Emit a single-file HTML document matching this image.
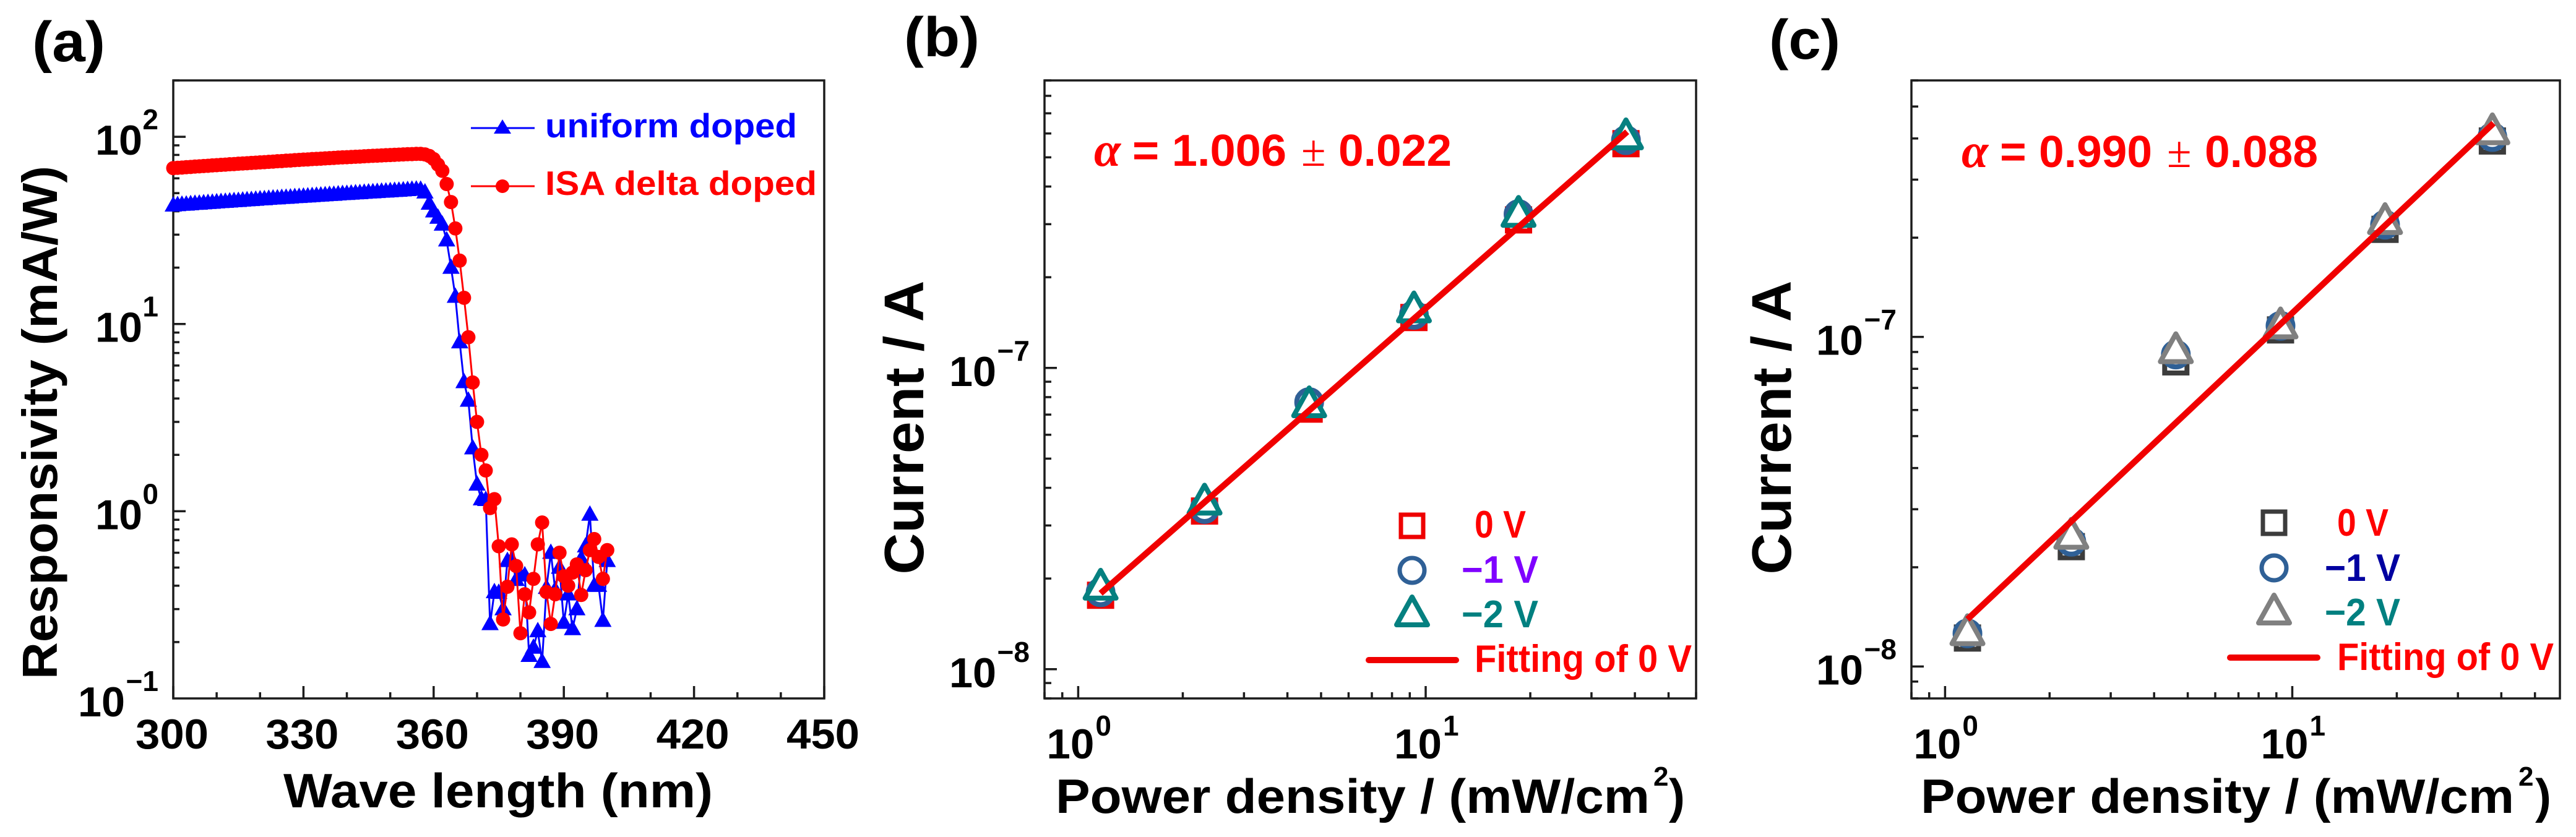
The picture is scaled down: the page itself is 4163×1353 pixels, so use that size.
<!DOCTYPE html>
<html lang="en">
<head>
<meta charset="utf-8">
<title>Responsivity and power-law fitting charts</title>
<style>
html,body{margin:0;padding:0;background:#fff;width:4163px;height:1353px;overflow:hidden}
svg{display:block}
text{font-family:"Liberation Sans",Arial,sans-serif;font-weight:bold;fill:#000}
.red{fill:#f00}
</style>
</head>
<body>
<svg id="figure" xmlns="http://www.w3.org/2000/svg" width="4163" height="1353" viewBox="0 0 4163 1353">
<rect x="0" y="0" width="4163" height="1353" fill="#fff"/>

<g id="panel-a">
  <text x="52" y="99" font-size="92" textLength="118" lengthAdjust="spacingAndGlyphs">(a)</text>
  <text transform="translate(92 683) rotate(-90)" text-anchor="middle" font-size="80" textLength="830" lengthAdjust="spacingAndGlyphs">Responsivity (mA/W)</text>
  <text x="458" y="1305" font-size="78" textLength="694" lengthAdjust="spacingAndGlyphs">Wave length (nm)</text>
  <g>
    <line x1="761" y1="207" x2="864" y2="207" stroke="#0000ff" stroke-width="3"/>
    <polygon points="812,193 826,216 798,216" fill="#0000ff"/>
    <text x="881" y="222" font-size="55" textLength="407" lengthAdjust="spacingAndGlyphs" style="fill:#0000ff">uniform doped</text>
    <line x1="761" y1="301" x2="864" y2="301" stroke="#ff0000" stroke-width="3"/>
    <circle cx="812" cy="301" r="11" fill="#ff0000"/>
    <text x="881" y="315" font-size="55" textLength="439" lengthAdjust="spacingAndGlyphs" class="red">ISA delta doped</text>
  </g>
</g>

<g id="panel-b">
  <text x="1461" y="91" font-size="90" textLength="122" lengthAdjust="spacingAndGlyphs">(b)</text>
  <text transform="translate(1492 691) rotate(-90)" text-anchor="middle" font-size="90" textLength="475" lengthAdjust="spacingAndGlyphs">Current / A</text>
  <text x="1706" y="1314" font-size="78" textLength="960" lengthAdjust="spacingAndGlyphs">Power density / (mW/cm</text>
  <text x="2672" y="1270" font-size="44">2</text>
  <text x="2697" y="1314" font-size="78">)</text>
  <text x="1768" y="268" font-size="78" class="red" style="font-family:'Liberation Serif',serif;font-style:italic">α</text>
  <text x="1830" y="268" font-size="72" textLength="249" lengthAdjust="spacingAndGlyphs" class="red">= 1.006</text>
  <text x="2103" y="268" font-size="72" class="red" style="font-family:'Liberation Serif',serif;font-weight:normal">±</text>
  <text x="2163" y="268" font-size="72" textLength="183" lengthAdjust="spacingAndGlyphs" class="red">0.022</text>
</g>

<g id="panel-c">
  <text x="2859" y="95" font-size="90" textLength="115" lengthAdjust="spacingAndGlyphs">(c)</text>
  <text transform="translate(2894 691) rotate(-90)" text-anchor="middle" font-size="90" textLength="475" lengthAdjust="spacingAndGlyphs">Current / A</text>
  <text x="3104" y="1314" font-size="78" textLength="959" lengthAdjust="spacingAndGlyphs">Power density / (mW/cm</text>
  <text x="4070" y="1270" font-size="44">2</text>
  <text x="4097" y="1314" font-size="78">)</text>
  <text x="3170" y="270" font-size="78" class="red" style="font-family:'Liberation Serif',serif;font-style:italic">α</text>
  <text x="3232" y="270" font-size="72" textLength="246" lengthAdjust="spacingAndGlyphs" class="red">= 0.990</text>
  <text x="3502" y="270" font-size="72" class="red" style="font-family:'Liberation Serif',serif;font-weight:normal">±</text>
  <text x="3563" y="270" font-size="72" textLength="183" lengthAdjust="spacingAndGlyphs" class="red">0.088</text>
</g>
</svg>

<script>
/* ---------- panel (a) data ---------- */
const wavelengths = [
300,301,302,303,304,305,306,307,308,309,310,311,312,313,314,315,316,317,318,319,
320,321,322,323,324,325,326,327,328,329,330,331,332,333,334,335,336,337,338,339,
340,341,342,343,344,345,346,347,348,349,350,351,352,353,354,355,356,357,358,359,
360,361,362,363,364,365,366,367,368,369,370,371,372,373,374,375,376,377,378,379,
380,381,382,383,384,385,386,387,388,389,390,391,392,393,394,395,396,397,398,399,400];
const uniformDoped = [
43,43.2,43.4,43.5,43.7,43.9,44,44.2,44.4,44.5,
44.7,44.9,45,45.2,45.4,45.5,45.7,45.9,46,46.2,
46.4,46.5,46.7,46.9,47,47.2,47.3,47.5,47.7,47.8,
48,48.1,48.3,48.5,48.6,48.8,49,49.1,49.3,49.5,
49.6,49.8,50,50.1,50.3,50.5,50.6,50.8,51,51.1,
51.3,51.5,51.6,51.8,52,52.2,52.3,52.2,50.5,44,
40,37,34,28,20,14,8,4.9,3.9,2.17,1.39,1.16,1.15,
.25,.37,.367,.30,.543,.55,.43,.455,.455,.169,.187,.229,.157,.39,.60,.38,.50,
.254,.36,.235,.30,.557,.65,.96,.40,.40,.26,.543];
const isaDeltaDoped = [
68,68.3,68.5,68.8,69,69.3,69.5,69.8,70,70.3,
70.5,70.8,71,71.3,71.5,71.8,72,72.2,72.5,72.7,
73,73.2,73.5,73.7,74,74.2,74.5,74.7,75,75.2,
75.5,75.7,76,76.2,76.4,76.7,76.9,77.1,77.4,77.6,
77.8,78,78.2,78.4,78.7,78.9,79.1,79.3,79.5,79.7,
79.9,80.1,80.3,80.5,80.7,80.8,81,81,80.5,79,
76,71,65.8,55.9,44.8,32.4,21.8,13.8,8.5,4.87,3.0,2.0,1.65,
1.04,1.16,.65,.264,.395,.665,.51,.223,.36,.288,.435,.665,.87,.37,.25,.36,.60,
.449,.40,.47,.52,.357,.484,.62,.71,.57,.435,.62];
const xTicksA = [300,310,320,330,340,350,360,370,380,390,400,410,420,430,440,450];
const xLabelsA = [300,330,360,390,420,450];
const yDecadesA = [2,1,0,-1];

/* ---------- panel (b) data ---------- */
const powerDensity = [1.16,2.31,4.62,9.25,18.5,37.7];
const b0V = [1.76e-8,3.35e-8,7.3e-8,1.47e-7,3.1e-7,5.55e-7];
const bMinus1V = [1.8e-8,3.4e-8,7.7e-8,1.5e-7,3.24e-7,5.7e-7];
const bMinus2V = [1.91e-8,3.66e-8,7.7e-8,1.59e-7,3.3e-7,5.97e-7];
const bFitPower = [1.16,38];
const bFitCurrent = [1.786e-8,6.08e-7];
const bYDecades = [-7,-8];

/* ---------- panel (c) data ---------- */
const c0V = [1.22e-8,2.31e-8,8.4e-8,1.05e-7,2.12e-7,3.93e-7];
const cMinus1V = [1.26e-8,2.39e-8,8.84e-8,1.08e-7,2.19e-7,4.04e-7];
const cMinus2V = [1.29e-8,2.53e-8,9.25e-8,1.10e-7,2.28e-7,4.27e-7];
const cFitPower = [1.16,38];
const cFitCurrent = [1.39e-8,4.45e-7];
const cYDecades = [-7,-8];

/* ---------- legend labels ---------- */
const xDecades = [0,1];
const minorMultipliers = [2,3,4,5,6,7,8,9];

const NS = 'http://www.w3.org/2000/svg';
function mk(parent, tag, attrs, txt) {
  const e = document.createElementNS(NS, tag);
  for (const k in attrs) e.setAttribute(k, attrs[k]);
  if (txt !== undefined) e.textContent = txt;
  parent.appendChild(e);
  return e;
}

const INK = '#1c1c1c';

function frameOf(parent, f) {
  const r = mk(parent, 'rect', {x:f.l, y:f.t, width:f.r-f.l, height:f.b-f.t, fill:'none', stroke:INK, 'stroke-width':3.5});
  
  
}
function tickLine(parent, x1, y1, x2, y2) {
  const t = mk(parent, 'line', {x1:x1, y1:y1, x2:x2, y2:y2, stroke:INK, 'stroke-width':3.5});
  
  
}
function powerLabelY(parent, right, yPix, dec) {
  const exp = String(dec).replace('-', '\u2212');
  const e = mk(parent, 'text', {x:right-24, y:yPix-12, 'font-size':46, 'text-anchor':'end'}, exp);
  
  
  const wide = dec < 0 ? 52 : 24;
  const b = mk(parent, 'text', {x:right-24-wide-2-76, y:yPix+29, 'font-size':68, textLength:76, lengthAdjust:'spacingAndGlyphs'}, '10');
  
  
}
function powerLabelX(parent, xPix, dec) {
  const b = mk(parent, 'text', {x:xPix-51, y:1226, 'font-size':68, textLength:77, lengthAdjust:'spacingAndGlyphs'}, '10');
  
  
  const e = mk(parent, 'text', {x:xPix+28, y:1189, 'font-size':46}, String(dec));
  
  
}

/* ---------- draw panel (a) ---------- */
const frameA = {l:280, r:1332, t:130, b:1129};
const xMinA = 300, xMaxA = 450, yMinLogA = -1, yMaxLogA = Math.log10(200);
function xA(v){ return frameA.l + (v-xMinA)/(xMaxA-xMinA)*(frameA.r-frameA.l); }
function yA(v){ return frameA.b - (Math.log10(v)-yMinLogA)/(yMaxLogA-yMinLogA)*(frameA.b-frameA.t); }

(function () {
  const p = document.getElementById('panel-a');
  const axes = mk(p, 'g', {});
  
  
  xTicksA.forEach(function (v) {
    const major = xLabelsA.indexOf(v) >= 0;
    tickLine(axes, xA(v), frameA.b, xA(v), frameA.b-(major?20:10));
  });
  xLabelsA.forEach(function (v) {
    const t = mk(axes, 'text', {x:xA(v)-2, y:1210, 'font-size':68, 'text-anchor':'middle', textLength:118, lengthAdjust:'spacingAndGlyphs'}, String(v));
    
    
  });
  yDecadesA.forEach(function (d) {
    const base = Math.pow(10, d);
    if (d > -1) tickLine(axes, frameA.l, yA(base), frameA.l+20, yA(base));
    if (d < 2) minorMultipliers.forEach(function (m) {
      tickLine(axes, frameA.l, yA(base*m), frameA.l+10, yA(base*m));
    });
    if (d === 2) tickLine(axes, frameA.l, yA(200), frameA.l+10, yA(200));
    powerLabelY(axes, frameA.l, yA(base), d);
  });
  const gb = mk(p, 'g', {});
  
  
  const lb = mk(gb, 'polyline', {fill:'none', stroke:'#0000ff', 'stroke-width':3,
    points: wavelengths.map(function (w, i) { return xA(w).toFixed(1)+','+yA(uniformDoped[i]).toFixed(1); }).join(' ')});
  
  
  wavelengths.forEach(function (w, i) {
    const x = xA(w), y = yA(uniformDoped[i]);
    const m = mk(gb, 'polygon', {fill:'#0000ff', points:(x)+','+(y-15)+' '+(x+14)+','+(y+10)+' '+(x-14)+','+(y+10)});
    
    
  });
  const gr = mk(p, 'g', {});
  
  
  const lr = mk(gr, 'polyline', {fill:'none', stroke:'#ff0000', 'stroke-width':3,
    points: wavelengths.map(function (w, i) { return xA(w).toFixed(1)+','+yA(isaDeltaDoped[i]).toFixed(1); }).join(' ')});
  
  
  wavelengths.forEach(function (w, i) {
    const m = mk(gr, 'circle', {fill:'#ff0000', cx:xA(w), cy:yA(isaDeltaDoped[i]), r:11.5});
    
    
  });
  frameOf(axes, frameA);
})();

/* ---------- draw panels (b) and (c) ---------- */
function triPoints(x, y) {
  return x+','+(y-23)+' '+(x+25)+','+(y+22)+' '+(x-25)+','+(y+22);
}
function drawLogPanel(cfg) {
  const p = document.getElementById(cfg.id);
  const f = cfg.frame;
  const lx0 = Math.log10(cfg.xMin), lx1 = Math.log10(cfg.xMax);
  const ly0 = Math.log10(cfg.yMin), ly1 = Math.log10(cfg.yMax);
  const X = function (v) { return f.l + (Math.log10(v)-lx0)/(lx1-lx0)*(f.r-f.l); };
  const Y = function (v) { return f.b - (Math.log10(v)-ly0)/(ly1-ly0)*(f.b-f.t); };
  const axes = mk(p, 'g', {});
  
  
  [-1,0,1].forEach(function (d) {
    const base = Math.pow(10, d);
    minorMultipliers.concat([10]).forEach(function (m) {
      const v = base*m;
      if (v < cfg.xMin || v > cfg.xMax) return;
      tickLine(axes, X(v), f.b, X(v), f.b-(m === 10 ? 20 : 10));
    });
  });
  xDecades.forEach(function (d) { powerLabelX(axes, X(Math.pow(10, d)), d); });
  [-9,-8,-7].forEach(function (d) {
    const base = Math.pow(10, d);
    minorMultipliers.concat([10]).forEach(function (m) {
      const v = base*m;
      if (v < cfg.yMin || v > cfg.yMax) return;
      tickLine(axes, f.l, Y(v), f.l+(m === 10 ? 20 : 11), Y(v));
    });
  });
  cfg.yDecades.forEach(function (d) { powerLabelY(axes, f.l, Y(Math.pow(10, d)), d); });

  const gs = mk(p, 'g', {fill:'#fff', 'stroke-width':8});
  
  
  cfg.xs.forEach(function (v, i) {
    const m = mk(gs, 'rect', {x:X(v)-18, y:Y(cfg.s0[i])-18, width:36, height:36, stroke:cfg.colors[0]});
    
    
  });
  const gc = mk(p, 'g', {fill:'#fff', 'stroke-width':8});
  
  
  cfg.xs.forEach(function (v, i) {
    const m = mk(gc, 'circle', {cx:X(v), cy:Y(cfg.s1[i]), r:20, stroke:cfg.colors[1]});
    
    
  });
  const gt = mk(p, 'g', {fill:'#fff', 'stroke-width':8, 'stroke-linejoin':'round'});
  
  
  cfg.xs.forEach(function (v, i) {
    const m = mk(gt, 'polygon', {points:triPoints(X(v), Y(cfg.s2[i])), stroke:cfg.colors[2]});
    
    
  });
  const fit = mk(p, 'line', {x1:X(cfg.fitX[0]), y1:Y(cfg.fitY[0]), x2:X(cfg.fitX[1]), y2:Y(cfg.fitY[1]), stroke:'#f00000', 'stroke-width':10});
  
  

  const lg = mk(p, 'g', {});
  
  
  const L = cfg.legend;
  const s = mk(lg, 'rect', {x:L.mx-18, y:L.y0-18, width:36, height:36, fill:'none', stroke:cfg.colors[0], 'stroke-width':7});
  
  
  const c = mk(lg, 'circle', {cx:L.mx, cy:L.y1, r:20, fill:'none', stroke:cfg.colors[1], 'stroke-width':7});
  
  
  const t = mk(lg, 'polygon', {points:triPoints(L.mx, L.y2), fill:'none', stroke:cfg.colors[2], 'stroke-width':8, 'stroke-linejoin':'round'});
  
  
  const a = mk(lg, 'text', {x:L.tx0, y:L.b0, 'font-size':62, textLength:L.w0, lengthAdjust:'spacingAndGlyphs', style:'fill:'+cfg.textColors[0]}, '0 V');
  
  
  const b = mk(lg, 'text', {x:L.tx1, y:L.b1, 'font-size':62, textLength:L.w1, lengthAdjust:'spacingAndGlyphs', style:'fill:'+cfg.textColors[1]}, '\u22121 V');
  
  
  const d = mk(lg, 'text', {x:L.tx1, y:L.b2, 'font-size':62, textLength:L.w1, lengthAdjust:'spacingAndGlyphs', style:'fill:'+cfg.textColors[2]}, '\u22122 V');
  
  
  const ln = mk(lg, 'line', {x1:L.lx0, y1:L.ly, x2:L.lx1, y2:L.ly, stroke:'#f00000', 'stroke-width':10, 'stroke-linecap':'round'});
  
  
  const ft = mk(lg, 'text', {x:L.tx0, y:L.bf, 'font-size':62, textLength:L.wf, lengthAdjust:'spacingAndGlyphs', style:'fill:#f00'}, 'Fitting of 0 V');
  
  
  frameOf(axes, f);
}

drawLogPanel({
  id:'panel-b', frame:{l:1688, r:2741, t:130, b:1129},
  xMin:0.8, xMax:60, yMin:8e-9, yMax:9e-7, yDecades:bYDecades,
  xs:powerDensity, s0:b0V, s1:bMinus1V, s2:bMinus2V, fitX:bFitPower, fitY:bFitCurrent,
  colors:['#ee0000','#2f6096','#058080'], textColors:['#f00','#7f00ff','#008080'],
  legend:{mx:2282, y0:850, y1:922, y2:988, tx0:2383, tx1:2362, w0:83, w1:124, b0:869, b1:942, b2:1014, lx0:2212, lx1:2353, ly:1067, bf:1086, wf:351}
});
drawLogPanel({
  id:'panel-c', frame:{l:3089, r:4137, t:130, b:1129},
  xMin:0.8, xMax:59, yMin:8e-9, yMax:6e-7, yDecades:cYDecades,
  xs:powerDensity, s0:c0V, s1:cMinus1V, s2:cMinus2V, fitX:cFitPower, fitY:cFitCurrent,
  colors:['#3c3c3c','#2f6096','#808080'], textColors:['#f00','#0000a0','#008080'],
  legend:{mx:3675, y0:845, y1:918, y2:985, tx0:3777, tx1:3757, w0:83, w1:122, b0:866, b1:939, b2:1011, lx0:3604, lx1:3745, ly:1063, bf:1083, wf:350}
});
</script>
</body>
</html>
